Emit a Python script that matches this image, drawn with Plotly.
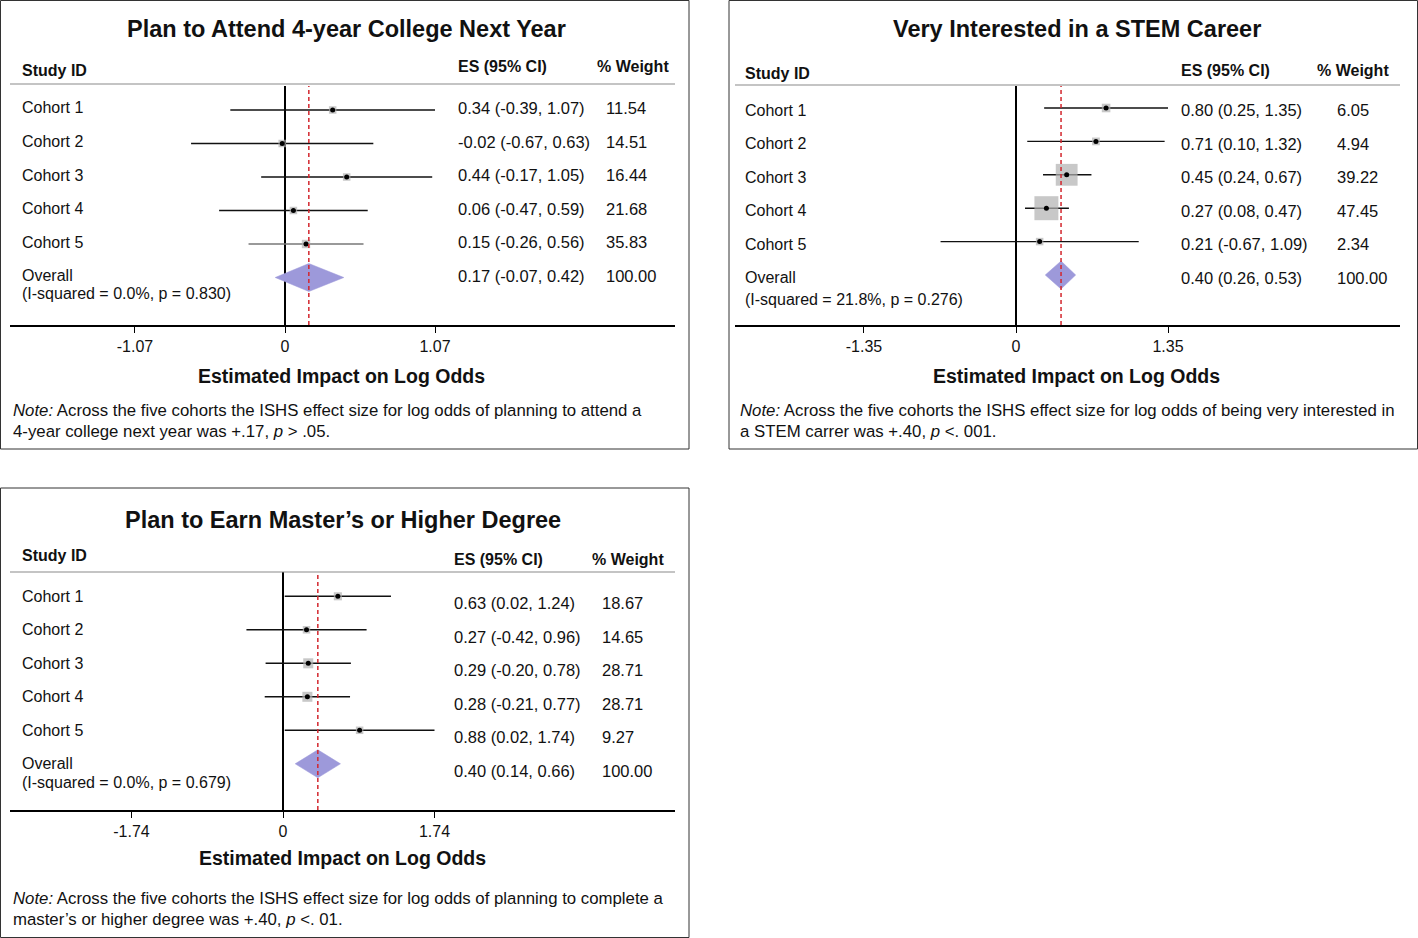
import plotly.graph_objects as go

W, H = 1418, 938

# ------------------------------------------------------------------ data
cohorts = ["Cohort 1", "Cohort 2", "Cohort 3", "Cohort 4", "Cohort 5"]
overall_label = "Overall"
headers = ["Study ID", "ES (95% CI)", "% Weight"]
axis_title = "Estimated Impact on Log Odds"

college_title = "Plan to Attend 4-year College Next Year"
college_es = [0.34, -0.02, 0.44, 0.06, 0.15]
college_lo = [-0.39, -0.67, -0.17, -0.47, -0.26]
college_hi = [1.07, 0.63, 1.05, 0.59, 0.56]
college_wt = [11.54, 14.51, 16.44, 21.68, 35.83]
college_overall = [0.17, -0.07, 0.42]
college_het = "(I-squared = 0.0%, p = 0.830)"
college_tick = 1.07
college_note = ["<i>Note:</i> Across the five cohorts the ISHS effect size for log odds of planning to attend a",
                "4-year college next year was +.17, <i>p</i> &gt; .05."]

stem_title = "Very Interested in a STEM Career"
stem_es = [0.80, 0.71, 0.45, 0.27, 0.21]
stem_lo = [0.25, 0.10, 0.24, 0.08, -0.67]
stem_hi = [1.35, 1.32, 0.67, 0.47, 1.09]
stem_wt = [6.05, 4.94, 39.22, 47.45, 2.34]
stem_overall = [0.40, 0.26, 0.53]
stem_het = "(I-squared = 21.8%, p = 0.276)"
stem_tick = 1.35
stem_note = ["<i>Note:</i> Across the five cohorts the ISHS effect size for log odds of being very interested in",
             "a STEM carrer was +.40, <i>p</i> &lt;. 001."]

masters_title = "Plan to Earn Master\u2019s or Higher Degree"
masters_es = [0.63, 0.27, 0.29, 0.28, 0.88]
masters_lo = [0.02, -0.42, -0.20, -0.21, 0.02]
masters_hi = [1.24, 0.96, 0.78, 0.77, 1.74]
masters_wt = [18.67, 14.65, 28.71, 28.71, 9.27]
masters_overall = [0.40, 0.14, 0.66]
masters_het = "(I-squared = 0.0%, p = 0.679)"
masters_tick = 1.74
masters_note = ["<i>Note:</i> Across the five cohorts the ISHS effect size for log odds of planning to complete a",
                "master\u2019s or higher degree was +.40, <i>p</i> &lt;. 01."]

# ------------------------------------------------------------------ style / layout (pixels)
FONT = "Liberation Sans, Arial, Helvetica, sans-serif"
TXT = "#111111"
SQUARE = "#b0b0b0"
DIAMOND = "#9d99da"
RED = "#d3262e"
PAD = 2  # annotation inner padding compensation (px)

panels = [
    dict(title=college_title, es=college_es, lo=college_lo, hi=college_hi, wt=college_wt,
         ov=college_overall, het=college_het, tick=college_tick, note=college_note,
         box=(0.5, 0.5, 689, 449), title_xy=(346, 29),
         hdr_y=(70, 67, 67), hdr_x=(22, 458, 597), hline=(10, 675, 84),
         lab_x=22, es_x=458, wt_x=606, ax=(10, 675), zero=285, unit=140.2,
         top=86, bottom=325, row1=110, step=33.5, lab_shift=2, es_shift=2,
         het_dy=18, atitle_xy=(341, 376), note_x=13, note_y=(410, 431),
         sq_k=1.4, line_cols=["#111", "#111", "#111", "#111", "#777"]),
    dict(title=stem_title, es=stem_es, lo=stem_lo, hi=stem_hi, wt=stem_wt,
         ov=stem_overall, het=stem_het, tick=stem_tick, note=stem_note,
         box=(729, 0.5, 1417.5, 449), title_xy=(1077, 29),
         hdr_y=(73, 71, 71), hdr_x=(745, 1181, 1317), hline=(735, 1400, 85),
         lab_x=745, es_x=1181, wt_x=1337, ax=(735, 1400), zero=1016, unit=112.6,
         top=86, bottom=325, row1=108, step=33.4, lab_shift=-2.5, es_shift=-2.5,
         het_dy=22, atitle_xy=(1076, 376), note_x=740, note_y=(410, 431),
         sq_k=3.48, line_cols=["#111"] * 5),
    dict(title=masters_title, es=masters_es, lo=masters_lo, hi=masters_hi, wt=masters_wt,
         ov=masters_overall, het=masters_het, tick=masters_tick, note=masters_note,
         box=(0.5, 488, 689, 937.5), title_xy=(343, 520),
         hdr_y=(555, 559, 559), hdr_x=(22, 454, 592), hline=(10, 675, 572),
         lab_x=22, es_x=454, wt_x=602, ax=(10, 675), zero=283, unit=87.07,
         top=572, bottom=810, row1=596.3, step=33.5, lab_shift=0, es_shift=-7,
         het_dy=19, atitle_xy=(342, 858), note_x=13, note_y=(898, 919),
         sq_k=1.87, line_cols=["#111"] * 5),
]


def px(x):
    return x / W


def py(y):
    return 1 - y / H


fig = go.Figure()
annotations = []
shapes = []
layout_axes = {}

for i, p in enumerate(panels):
    sfx = "" if i == 0 else str(i + 1)
    xa, ya = "x" + sfx, "y" + sfx
    n = len(cohorts)
    rows = list(range(1, n + 1))
    ov_row = n + 1

    # axes
    x0 = (p["ax"][0] - p["zero"]) / p["unit"]
    x1 = (p["ax"][1] - p["zero"]) / p["unit"]
    ytop = 1 + (p["top"] - p["row1"]) / p["step"]
    ybot = 1 + (p["bottom"] - p["row1"]) / p["step"]
    t = p["tick"]
    layout_axes["xaxis" + sfx] = dict(
        domain=[px(p["ax"][0]), px(p["ax"][1])], range=[x0, x1], anchor=ya,
        showgrid=False, zeroline=True, zerolinecolor="#000", zerolinewidth=2,
        showline=True, linecolor="#000", linewidth=1.5,
        ticks="outside", ticklen=6, tickwidth=1, tickcolor="#000",
        tickvals=[-t, 0, t], ticktext=[f"-{t:.2f}", "0", f"{t:.2f}"],
        tickfont=dict(family=FONT, size=16, color=TXT), fixedrange=True)
    layout_axes["yaxis" + sfx] = dict(
        domain=[py(p["bottom"]), py(p["top"])], range=[ybot, ytop], anchor=xa,
        showgrid=False, zeroline=False, showline=False, showticklabels=False,
        ticks="", fixedrange=True)

    # CI lines
    for r, lo, hi, col in zip(rows, p["lo"], p["hi"], p["line_cols"]):
        fig.add_trace(go.Scatter(x=[lo, hi], y=[r, r], mode="lines",
                                 line=dict(color=col, width=1.4),
                                 xaxis=xa, yaxis=ya, showlegend=False, hoverinfo="skip"))
    # weight squares
    sizes = [max(7.5, p["sq_k"] * w ** 0.5) for w in p["wt"]]
    fig.add_trace(go.Scatter(x=p["es"], y=rows, mode="markers",
                             marker=dict(symbol="square", size=sizes, color=SQUARE,
                                         line=dict(width=0)),
                             xaxis=xa, yaxis=ya, showlegend=False, hoverinfo="skip"))
    # point estimate dots
    fig.add_trace(go.Scatter(x=p["es"], y=rows, mode="markers",
                             marker=dict(symbol="circle", size=5, color="#000"),
                             xaxis=xa, yaxis=ya, showlegend=False, hoverinfo="skip"))
    # overall diamond
    es_o, lo_o, hi_o = p["ov"]
    h = 14 / p["step"]
    fig.add_trace(go.Scatter(x=[lo_o, es_o, hi_o, es_o, lo_o],
                             y=[ov_row, ov_row - h, ov_row, ov_row + h, ov_row],
                             mode="lines", fill="toself", fillcolor=DIAMOND,
                             line=dict(color=DIAMOND, width=0.5),
                             xaxis=xa, yaxis=ya, showlegend=False, hoverinfo="skip"))

    # red dashed line at overall estimate
    shapes.append(dict(type="line", xref=xa, yref=ya + " domain", x0=es_o, x1=es_o,
                       y0=0, y1=1, line=dict(color=RED, width=1.5, dash="4px,3px")))
    # header rule
    shapes.append(dict(type="line", xref="paper", yref="paper",
                       x0=px(p["hline"][0]), x1=px(p["hline"][1]),
                       y0=py(p["hline"][2]), y1=py(p["hline"][2]),
                       line=dict(color="#8a8a8a", width=1.2)))
    # panel border
    bx0, by0, bx1, by1 = p["box"]
    shapes.append(dict(type="rect", xref="paper", yref="paper",
                       x0=px(bx0), x1=px(bx1), y0=py(by1), y1=py(by0),
                       line=dict(color="#333", width=1)))

    # title
    annotations.append(dict(text="<b>" + p["title"] + "</b>", xref="paper", yref="paper",
                            x=px(p["title_xy"][0]), y=py(p["title_xy"][1]),
                            xanchor="center", yanchor="middle", showarrow=False,
                            font=dict(family=FONT, size=23.5, color=TXT)))
    # headers
    for txt, hx, hy in zip(headers, p["hdr_x"], p["hdr_y"]):
        annotations.append(dict(text="<b>" + txt + "</b>", xref="paper", yref="paper",
                                x=px(hx - PAD), y=py(hy), xanchor="left", yanchor="middle",
                                showarrow=False, font=dict(family=FONT, size=16, color=TXT)))
    # row labels and columns
    labels = cohorts + [overall_label]
    es_all = p["es"] + [es_o]
    lo_all = p["lo"] + [lo_o]
    hi_all = p["hi"] + [hi_o]
    wt_all = p["wt"] + [100.0]
    for r, lab, e, lo, hi, w in zip(rows + [ov_row], labels, es_all, lo_all, hi_all, wt_all):
        annotations.append(dict(text=lab, xref="paper", yref=ya, x=px(p["lab_x"] - PAD), y=r,
                                yshift=p["lab_shift"], xanchor="left", yanchor="middle",
                                showarrow=False, font=dict(family=FONT, size=16, color=TXT)))
        annotations.append(dict(text=f"{e:.2f} ({lo:.2f}, {hi:.2f})", xref="paper", yref=ya,
                                x=px(p["es_x"] - PAD), y=r, yshift=p["es_shift"],
                                xanchor="left", yanchor="middle", showarrow=False,
                                font=dict(family=FONT, size=16.5, color=TXT)))
        annotations.append(dict(text=f"{w:.2f}", xref="paper", yref=ya,
                                x=px(p["wt_x"] - PAD), y=r, yshift=p["es_shift"],
                                xanchor="left", yanchor="middle", showarrow=False,
                                font=dict(family=FONT, size=16.5, color=TXT)))
    annotations.append(dict(text=p["het"], xref="paper", yref=ya, x=px(p["lab_x"] - PAD),
                            y=ov_row, yshift=p["lab_shift"] - p["het_dy"], xanchor="left",
                            yanchor="middle", showarrow=False,
                            font=dict(family=FONT, size=16, color=TXT)))
    # axis title
    annotations.append(dict(text="<b>" + axis_title + "</b>", xref="paper", yref="paper",
                            x=px(p["atitle_xy"][0]), y=py(p["atitle_xy"][1]),
                            xanchor="center", yanchor="middle", showarrow=False,
                            font=dict(family=FONT, size=19.5, color=TXT)))
    # note
    for line, ny in zip(p["note"], p["note_y"]):
        annotations.append(dict(text=line, xref="paper", yref="paper",
                                x=px(p["note_x"] - PAD), y=py(ny), xanchor="left",
                                yanchor="middle", showarrow=False,
                                font=dict(family=FONT, size=16.8, color=TXT)))

fig.update_layout(width=W, height=H, margin=dict(l=0, r=0, t=0, b=0, pad=0),
                  paper_bgcolor="white", plot_bgcolor="rgba(0,0,0,0)",
                  showlegend=False, annotations=annotations, shapes=shapes,
                  **layout_axes)

fig.write_html("out.html", config={"displayModeBar": False},
               post_script="document.body.style.margin='0px';")
